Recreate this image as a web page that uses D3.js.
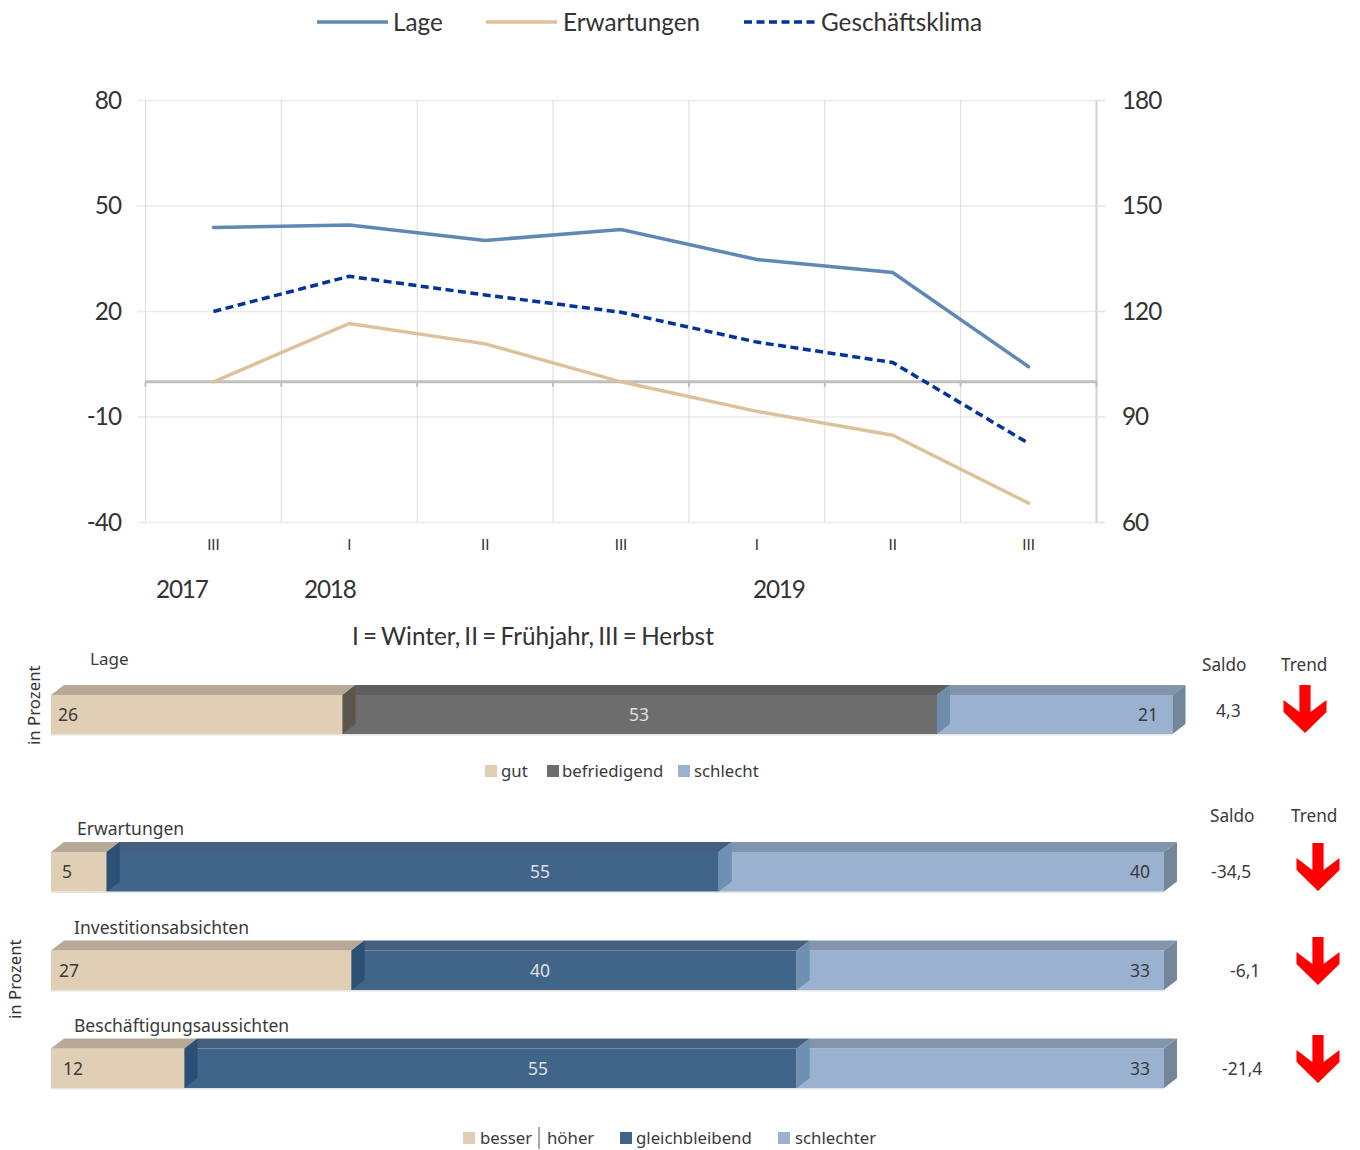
<!DOCTYPE html>
<html><head><meta charset="utf-8">
<script src="https://cdn.jsdelivr.net/npm/d3@7"></script>
<style>html,body{margin:0;background:#fff}svg{display:block}text{font-family:"Noto Sans",sans-serif;fill:#333}text.big{font-family:Lato,sans-serif}</style>
</head><body><svg id="c" width="1360" height="1150"></svg>
<script>
const periods = ["III","I","II","III","I","II","III"];
const periodKeys = ["2017-III","2018-I","2018-II","2018-III","2019-I","2019-II","2019-III"];
const lage = [43.9,44.6,40.2,43.3,34.8,31.1,4.3];
const erwartungen = [0,16.6,10.8,0,-8.4,-15.2,-34.5];
const klima = [120,130,124.7,119.8,111.3,105.5,82.5];
const leftTicks = [-40,-10,20,50,80];
const rightTicks = [60,90,120,150,180];
const yearLabels = ["2017","2018","2019"];
const lageRow = [{name:"Lage",values:[26,53,21],saldo:"4,3"}];
const outlookRows = [
 {name:"Erwartungen",values:[5,55,40],saldo:"-34,5"},
 {name:"Investitionsabsichten",values:[27,40,33],saldo:"-6,1"},
 {name:"Beschäftigungsaussichten",values:[12,55,33],saldo:"-21,4"}];

const svg = d3.select("#c");
const x = d3.scaleBand().domain(periodKeys).range([145.5,1096.5]);
const yL = d3.scaleLinear().domain([-40,80]).range([522.5,100.5]);
const yR = d3.scaleLinear().domain([60,180]).range([522.5,100.5]);
const cx = k => x(k)+x.bandwidth()/2;
const BIG = 24.3;

const g = svg.append("g");
g.selectAll(".h").data(leftTicks).join("line").attr("x1",137).attr("x2",1096)
  .attr("y1",yL).attr("y2",yL).attr("stroke","#ebebeb").attr("stroke-width",1.5);
const bounds = periodKeys.map(k=>x(k)).concat([x.range()[1]]);
g.selectAll(".v").data(bounds.slice(0,-1)).join("line").attr("x1",d=>d).attr("x2",d=>d)
  .attr("y1",100).attr("y2",522).attr("stroke","#dcdcdc").attr("stroke-width",1);
g.append("line").attr("x1",1096.5).attr("x2",1096.5).attr("y1",100).attr("y2",522).attr("stroke","#d0d0d0").attr("stroke-width",2);
g.selectAll(".r").data(rightTicks).join("line").attr("x1",1096).attr("x2",1105)
  .attr("y1",yR).attr("y2",yR).attr("stroke","#e2e2e2").attr("stroke-width",1.5);

const axL = svg.append("g").attr("transform","translate(129,0)")
  .call(d3.axisLeft(yL).tickValues(leftTicks).tickSize(0).tickPadding(8).tickFormat(d=>String(d)));
const axR = svg.append("g").attr("transform","translate(1114,0)")
  .call(d3.axisRight(yR).tickValues(rightTicks).tickSize(0).tickPadding(8));
[axL,axR].forEach(a=>{a.select(".domain").remove();a.selectAll("text").attr("class","big").attr("font-size",BIG).attr("letter-spacing",-1).style("font-family","Lato,sans-serif")});
const axX = svg.append("g").attr("transform","translate(0,539)")
  .call(d3.axisBottom(x).tickSize(0).tickPadding(0).tickFormat((d,i)=>periods[i]));
axX.select(".domain").remove();
axX.selectAll("text").attr("font-size",15).attr("dy","0.71em").style("font-family","Lato,sans-serif");

g.append("line").attr("x1",145).attr("x2",1097).attr("y1",yL(0)).attr("y2",yL(0)).attr("stroke","#bfbfbf").attr("stroke-width",3);
g.selectAll(".z").data(bounds).join("line").attr("x1",d=>d).attr("x2",d=>d).attr("y1",yL(0)).attr("y2",yL(0)+5).attr("stroke","#bfbfbf").attr("stroke-width",2);

const line = s => d3.line().x((d,i)=>cx(periodKeys[i])).y(d=>s(d));
svg.append("path").attr("d",line(yL)(lage)).attr("fill","none").attr("stroke","#5f88b5").attr("stroke-width",3.5).attr("stroke-linecap","round");
svg.append("path").attr("d",line(yL)(erwartungen)).attr("fill","none").attr("stroke","#dcc29b").attr("stroke-width",3.5).attr("stroke-linecap","round");
svg.append("path").attr("d",line(yR)(klima)).attr("fill","none").attr("stroke","#00349a").attr("stroke-width",3.5).attr("stroke-dasharray","8 4.5");

const legend = [["Lage",317,393,"#5f88b5",null],["Erwartungen",486,563,"#dcc29b",null],["Geschäftsklima",744,821,"#00349a","8 4.5"]];
legend.forEach(([t,x0,tx,c,d])=>{
  svg.append("line").attr("x1",x0).attr("x2",x0+71).attr("y1",22).attr("y2",22).attr("stroke",c).attr("stroke-width",3.5).attr("stroke-dasharray",d);
  svg.append("text").attr("class","big").attr("x",tx).attr("y",31).attr("font-size",BIG).text(t);
});
[[156,0],[304,1],[753,2]].forEach(([px,i])=>svg.append("text").attr("class","big").attr("x",px).attr("y",598).attr("font-size",BIG).attr("letter-spacing",-1.2).text(yearLabels[i]));
svg.append("text").attr("class","big").attr("x",352).attr("y",645).attr("font-size",BIG).attr("word-spacing",-2).text("I = Winter, II = Frühjahr, III = Herbst");

const dx=13, dy=10;
const poly=(sel,pts,fill)=>sel.append("polygon").attr("points",pts.map(p=>p.join(",")).join(" ")).attr("fill",fill);
function bars(row,sc,top,h,colors){
  const G=svg.append("g");
  let cum=0;
  const segs=row.values.map(v=>{const s={a:sc(cum),b:sc(cum+v),v};cum+=v;return s;});
  G.append("rect").attr("x",sc(0)).attr("y",top+h).attr("width",sc(100)-sc(0)).attr("height",1.5).attr("fill","#e8e6e2");
  segs.forEach((s,i)=>{
    const c=colors[i];
    G.append("rect").attr("x",s.a).attr("y",top).attr("width",s.b-s.a).attr("height",h).attr("fill",c.front);
    poly(G,[[s.a,top],[s.a+dx,top-dy],[s.b+dx,top-dy],[s.b,top]],c.top);
  });
  segs.forEach((s,i)=>{
    poly(G,[[s.b,top],[s.b+dx,top-dy],[s.b+dx,top+h-dy],[s.b,top+h]],colors[i].side);
  });
  return segs;
}
function label(t,px,py,anchor,fill,size){
  return svg.append("text").attr("x",px).attr("y",py).attr("text-anchor",anchor||"start").attr("font-size",size||17.5).style("fill",fill||"#3a3a3a").text(t);
}
function arrow(px,py){
  const pts=[[-5.6,0],[5.6,0],[5.6,27],[21.5,15],[21.5,27],[0,48],[-21.5,27],[-21.5,15],[-5.6,27]];
  svg.append("polygon").attr("points",pts.map(p=>[p[0]+px,p[1]+py].join(",")).join(" ")).attr("fill","#ff0000");
}
const tan={front:"#e0cfb4",top:"#b7a996",side:"#5a564e"};
const grey={front:"#6d6d6d",top:"#5f5f5f",side:"#6f8cab"};
const lblue={front:"#9ab2d0",top:"#8295ac",side:"#73869c"};
const dblue={front:"#416489",top:"#45607e",side:"#6f8fb3"};
const tan2={...tan,side:"#2b4f75"};

const s1=d3.scaleLinear().domain([0,100]).range([51,1172.5]);
bars(lageRow[0],s1,695,39,[tan,grey,lblue]);
label("26",58,721);label("53",639,721,"middle","#e0e0e0");label("21",1158,721,"end");
label("Lage",90,665,"start",null,17);
label("Saldo",1202,670.5,"start",null,17.2);label("Trend",1281,670.5,"start",null,17.2);
label("4,3",1216,717);
arrow(1305,685);
svg.append("text").attr("transform","translate(40,745) rotate(-90)").attr("font-size",16.8).text("in Prozent");

function sq(px,c,t,tx,py){svg.append("rect").attr("x",px).attr("y",py-6).attr("width",12).attr("height",12).attr("fill",c);label(t,tx,py+6,"start",null,16.8);}
sq(485,"#e0cfb4","gut",501,771);sq(547,"#6d6d6d","befriedigend",562,771);sq(678,"#9ab2d0","schlecht",694,771);

const s2=d3.scaleLinear().domain([0,100]).range([51,1164]);
const rowTops=[852,950.5,1048.5];
const nameX=[77,74,74];
const firstX=[62,59,63];
const midX=[540,540,538];
const saldoX=[1211,1230,1222];
const arrowY=[843,937,1035];
outlookRows.forEach((r,i)=>{
  const t=rowTops[i];
  bars(r,s2,t,39.5,[tan2,dblue,lblue]);
  label(r.values[0],firstX[i],t+26);
  label(r.values[1],midX[i],t+26,"middle","#e0e0e0");
  label(r.values[2],1150,t+26,"end");
  label(r.name,nameX[i],t-17);
  label(r.saldo,saldoX[i],t+26);
  arrow(1318,arrowY[i]);
});
label("Saldo",1210,822,"start",null,17.2);label("Trend",1291,822,"start",null,17.2);
svg.append("text").attr("transform","translate(21,1019) rotate(-90)").attr("font-size",16.8).text("in Prozent");
sq(463,"#e0cfb4","besser",480,1138);
svg.append("line").attr("x1",539).attr("x2",539).attr("y1",1127).attr("y2",1149).attr("stroke","#555");
label("höher",547,1144,"start",null,16.8);
sq(620,"#416489","gleichbleibend",636,1138);sq(778,"#9ab2d0","schlechter",795,1138);
</script></body></html>
